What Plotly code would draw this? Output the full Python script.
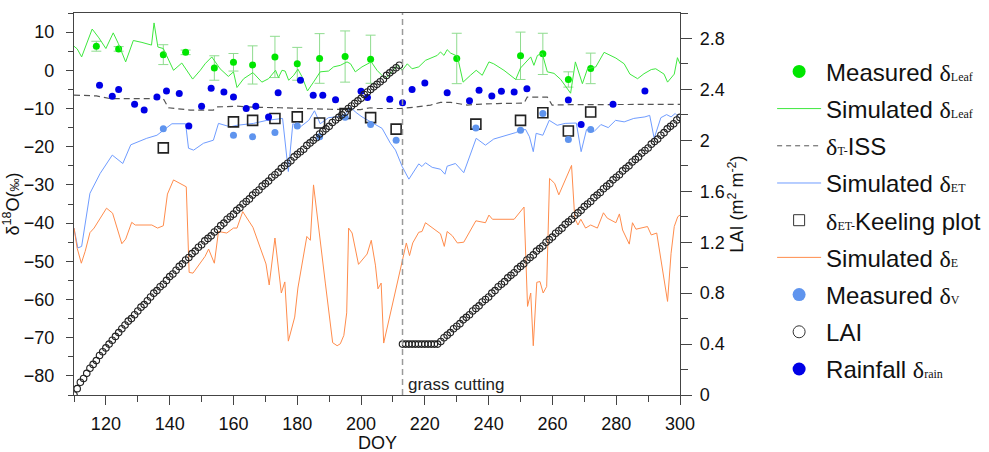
import plotly.graph_objects as go

# ---- measured leaf water (mean ± sd) ----
leaf_doy = [117, 124, 138, 145, 154, 160, 166, 173, 180, 187, 195, 203, 230, 250, 257, 265, 272]
leaf_meas = [6.3, 5.6, 4.1, 4.7, 0.6, 2.1, 1.4, 3.5, 1.7, 3.1, 3.6, 2.9, 3.1, 3.8, 4.3, -2.4, 0.5]
leaf_err = [1.3, 0.6, 2.6, 0.6, 3.2, 2.3, 5.0, 5.4, 4.3, 6.5, 6.7, 6.3, 6.6, 6.2, 5.4, 2.0, 4.0]

# ---- simulated leaf water ----
sim_leaf_doy = [110.0, 111.0, 112.4, 115.7, 117.8, 120.0, 122.3, 123.9, 126.2, 128.6, 131.3, 134.3, 135.1,
                136.3, 138.0, 141.2, 143.8, 147.2, 149.6, 151.1, 153.2, 155.8, 158.4, 160.0, 161.1, 163.2,
                166.1, 168.9, 171.0, 173.2, 174.1, 175.2, 176.2, 177.3, 178.9, 180.2, 181.5, 183.2, 185.1,
                187.2, 189.8, 191.4, 193.5, 195.6, 196.7, 198.2, 200.3, 203.2, 205.0, 207.6, 209.7, 211.3,
                212.9, 214.5, 216.0, 218.1, 220.2, 223.9, 224.9, 226.0, 227.0, 228.1, 230.2, 232.0, 234.3,
                236.1, 238.0, 240.1, 241.6, 244.8, 248.5, 250.0, 253.2, 254.2, 255.3, 256.8, 258.4, 260.5,
                262.6, 265.7, 267.2, 268.3, 269.4, 271.0, 273.6, 276.2, 279.9, 282.5, 284.3, 286.7, 288.7,
                291.0, 292.4, 295.0, 296.1, 298.2, 299.2, 300.0]
sim_leaf = [6.3, 5.6, 3.5, 10.8, 8.5, 5.7, 9.8, 7.0, 2.2, 7.8, 7.3, 6.6, 12.4,
            6.1, 5.7, 0.0, 1.9, -2.3, 0.0, 1.7, 3.5, 0.4, -1.6, -0.4, -4.5, -2.2,
            -0.6, -3.1, -2.2, 0.0, -1.9, 0.0, -0.2, -2.6, -1.3, 0.3, -1.7, -5.4, -3.1,
            -0.4, -0.2, 0.9, 1.3, 2.2, 1.7, -0.4, 0.9, 2.2, 0.0, -2.2, -0.4, 1.3,
            0.0, 1.7, 0.4, 0.9, 2.6, 3.9, 4.8, 3.9, 5.4, 4.5, 3.7, -3.1, -1.3,
            0.0, -1.3, 2.2, 1.7, 0.0, -2.4, 0.6, 3.5, 1.3, 3.9, 4.4, -0.4, -0.8,
            -2.4, -6.0, 2.2, -0.4, -3.5, 0.4, 0.9, 4.7, 3.2, 1.7, -1.0, -2.2, -0.9,
            0.2, 0.4, -1.0, -3.1, -1.0, 3.3, 1.7]

# ---- transpiration at isotopic steady state ----
iss_doy = [110, 117, 121.3, 138, 139.6, 146.4, 153.7, 154.8, 161.1, 167.4, 174.7, 181, 190.4, 199.8,
           202.9, 205, 212.4, 216.5, 221.8, 224.9, 228.1, 233.3, 236.4, 242.7, 251.1, 252.1, 258.4,
           259.9, 265.7, 300]
iss = [-6.5, -6.7, -7.4, -7.4, -9.8, -10.4, -10.4, -9.6, -9.4, -9.7, -9.8, -10.0, -10.2, -10.3,
       -9.8, -10.0, -10.0, -9.7, -9.1, -8.4, -8.4, -9.1, -8.9, -8.7, -8.6, -7.0, -7.0,
       -9.1, -9.0, -8.9]

# ---- simulated evapotranspiration ----
et_doy = [110.0, 111.2, 112.4, 115.0, 118.2, 122.0, 125.3, 127.8, 132.8, 136.0, 140.7, 145.0, 145.9,
          147.5, 150.6, 153.7, 155.3, 159.0, 161.1, 166.3, 170.5, 175.4, 177.2, 178.6, 181.0, 183.6,
          185.4, 187.2, 189.8, 194.6, 196.7, 198.2, 200.3, 204.0, 206.6, 209.2, 210.8, 212.9, 215.0,
          218.1, 219.1, 220.2, 222.3, 224.9, 226.3, 227.0, 229.6, 232.2, 234.9, 236.1, 239.0, 241.6,
          248.5, 250.0, 251.6, 252.8, 254.0, 254.9, 257.0, 259.0, 261.5, 264.0, 267.5, 269.0, 270.7,
          273.1, 275.2, 277.5, 279.8, 282.5, 285.5, 289.0, 290.5, 291.9, 294.0, 295.8, 297.2, 298.5,
          300.0]
et = [-41.3, -46.5, -46.1, -32.2, -27.0, -22.2, -24.4, -19.5, -17.8, -17.0, -14.0, -14.0, -20.4,
      -20.9, -19.1, -18.3, -13.9, -14.8, -14.4, -13.9, -13.1, -12.6, -26.5, -14.0, -14.8, -13.1,
      -10.6, -14.0, -12.4, -12.0, -9.6, -10.9, -12.2, -13.9, -15.2, -19.1, -20.9, -25.2, -28.5,
      -24.5, -25.2, -24.2, -25.4, -25.9, -27.2, -25.1, -24.4, -26.8, -20.9, -17.8, -19.6, -18.0,
      -16.3, -15.7, -15.5, -17.4, -21.3, -16.5, -17.0, -13.1, -14.4, -13.9, -13.8, -21.3, -15.5,
      -16.0, -14.2, -15.0, -13.1, -13.5, -12.6, -12.2, -11.8, -17.8, -12.4, -11.6, -12.2, -11.3,
      -12.6]

# ---- Keeling plot estimates of ET ----
keel_doy = [138, 160, 166, 173, 180, 187, 195, 203, 211, 236, 250, 257, 265, 272]
keel = [-20.3, -13.5, -13.1, -12.6, -12.2, -13.8, -11.3, -12.4, -15.4, -14.1, -13.1, -11.1, -15.9, -10.9]

# ---- simulated soil evaporation ----
e_doy = [110.0, 111.0, 112.3, 113.5, 115.0, 116.3, 120.2, 122.1, 125.0, 126.2, 128.1, 129.2, 134.4,
         136.2, 138.0, 139.3, 141.2, 145.2, 146.1, 147.3, 151.1, 152.2, 154.0, 155.3, 157.9, 160.0,
         161.1, 162.9, 166.1, 170.2, 171.2, 173.0, 175.0, 176.1, 177.2, 179.2, 180.2, 183.0, 184.1,
         185.1, 188.8, 191.1, 192.5, 193.5, 194.6, 195.5, 196.1, 197.2, 199.2, 201.9, 203.2, 204.5,
         205.3, 206.3, 207.1, 213.4, 214.2, 215.2, 216.2, 218.1, 219.1, 220.2, 222.3, 224.9, 226.1,
         227.0, 228.6, 230.2, 232.2, 236.0, 239.0, 240.1, 241.2, 248.0, 251.1, 252.2, 253.2, 254.0,
         255.1, 256.1, 257.1, 258.2, 259.1, 260.7, 262.0, 266.0, 267.0, 268.0, 268.9, 270.4, 272.0,
         274.1, 276.0, 277.2, 279.9, 281.0, 282.0, 284.1, 285.1, 286.2, 289.8, 291.0, 292.7, 296.1,
         297.2, 298.2, 299.3, 300.0]
e_sim = [-41.3, -46.6, -50.5, -47.4, -42.5, -41.3, -36.1, -37.4, -45.4, -44.2, -39.8, -40.5, -40.5,
         -41.3, -40.7, -32.4, -28.7, -30.5, -52.9, -53.1, -48.7, -46.8, -50.5, -42.2, -42.6, -41.3,
         -41.3, -37.0, -41.1, -50.7, -56.2, -43.9, -58.3, -55.4, -70.9, -64.6, -57.0, -43.5, -44.5,
         -30.0, -55.7, -71.3, -72.1, -71.6, -69.4, -63.5, -41.3, -42.6, -50.8, -48.1, -44.5, -51.0,
         -57.2, -55.7, -71.4, -48.7, -45.2, -48.5, -45.2, -42.4, -42.2, -39.9, -41.1, -42.8, -46.1,
         -42.2, -43.3, -45.2, -45.0, -39.4, -39.9, -37.9, -39.0, -39.0, -35.8, -61.8, -58.3, -72.1,
         -55.5, -55.3, -58.3, -56.6, -28.3, -29.6, -32.6, -24.9, -38.7, -40.5, -39.0, -41.3, -40.5,
         -41.3, -37.3, -38.7, -39.9, -37.6, -41.8, -45.5, -39.9, -41.6, -40.9, -43.1, -42.6, -60.5,
         -47.9, -40.9, -38.3, -37.9]

# ---- measured atmospheric vapour ----
vap_doy = [138, 160, 166, 173, 180, 187, 195, 203, 211, 236, 250, 257, 265, 272]
vap = [-15.3, -17.0, -17.4, -16.3, -14.6, -17.4, -12.3, -14.2, -18.3, -15.1, -15.7, -11.3, -18.1, -15.5]

# ---- leaf area index (daily) ----
lai_doy = list(range(110, 301))
lai = [0.00, 0.05, 0.10, 0.13, 0.17, 0.21, 0.24, 0.27, 0.31, 0.34, 0.37,
       0.40, 0.43, 0.46, 0.49, 0.52, 0.55, 0.58, 0.60, 0.63, 0.66,
       0.69, 0.71, 0.74, 0.77, 0.80, 0.82, 0.85, 0.87, 0.90, 0.93,
       0.95, 0.98, 1.01, 1.03, 1.06, 1.08, 1.11, 1.13, 1.16, 1.18,
       1.21, 1.23, 1.25, 1.28, 1.30, 1.33, 1.35, 1.38, 1.40, 1.42,
       1.45, 1.47, 1.50, 1.52, 1.54, 1.57, 1.59, 1.61, 1.64, 1.66,
       1.68, 1.71, 1.73, 1.75, 1.78, 1.80, 1.82, 1.84, 1.87, 1.89,
       1.91, 1.93, 1.96, 1.98, 2.00, 2.02, 2.05, 2.07, 2.09, 2.11,
       2.14, 2.16, 2.18, 2.20, 2.22, 2.25, 2.27, 2.29, 2.31, 2.33,
       2.36, 2.38, 2.40, 2.42, 2.44, 2.46, 2.48, 2.51, 2.53, 2.55,
       2.57, 2.59,
       # after grass cutting (DOY 213)
       0.40, 0.40, 0.40, 0.40, 0.40, 0.40, 0.40, 0.40, 0.40, 0.40, 0.40, 0.40,
       0.42, 0.45, 0.47, 0.49, 0.52, 0.54, 0.56, 0.59, 0.61, 0.63,
       0.66, 0.68, 0.70, 0.73, 0.75, 0.77, 0.80, 0.82, 0.85, 0.87,
       0.89, 0.92, 0.94, 0.96, 0.99, 1.01, 1.03, 1.06, 1.08, 1.10,
       1.13, 1.15, 1.17, 1.20, 1.22, 1.24, 1.27, 1.29, 1.31, 1.34,
       1.36, 1.38, 1.41, 1.43, 1.45, 1.48, 1.50, 1.52, 1.55, 1.57,
       1.59, 1.62, 1.64, 1.66, 1.69, 1.71, 1.73, 1.76, 1.78, 1.80,
       1.83, 1.85, 1.87, 1.90, 1.92, 1.94, 1.97, 1.99, 2.01, 2.04,
       2.06, 2.09, 2.11, 2.13, 2.16, 2.18]

# ---- rainfall isotopes ----
rain_doy = [118, 122, 124, 129, 132, 136, 139, 143, 146, 150, 153, 157, 160, 164, 167, 171, 174, 181,
            185, 188, 192, 200, 202, 209, 213, 216, 220, 227, 234, 237, 241, 244, 248, 252, 265, 269,
            279, 289]
rain = [-3.9, -6.8, -5.0, -8.9, -10.4, -7.0, -5.4, -6.1, -14.6, -9.4, -4.7, -5.7, -7.0, -10.0, -9.4,
        -12.2, -5.9, -2.6, -6.5, -6.5, -7.7, -5.5, -7.1, -7.6, -8.5, -5.0, -3.3, -5.9, -8.0, -5.2,
        -6.7, -5.5, -5.7, -4.8, -7.8, -14.2, -8.9, -5.4]

CUT_DOY = 213

SERIF = "Liberation Serif, Times New Roman, serif"


def delta(sub):
    # δ with a small, baseline-aligned index in a serif face
    return (f"<span style='font-family:{SERIF}'>δ</span>"
            f"<span style='font-family:{SERIF};font-size:12px'>{sub}</span>")


C_LEAF, C_SLEAF, C_ISS = "#00e600", "#3ee83e", "#555555"
C_ET, C_KEEL, C_E = "#6f9cff", "#222222", "#ff8c4c"
C_VAP, C_LAI, C_RAIN = "#5f94ee", "#222222", "#0000e6"

fig = go.Figure()

# ---- data traces (legend handled by the keys below) ----
fig.add_trace(go.Scatter(
    x=leaf_doy, y=leaf_meas, mode="markers", showlegend=False, legendgroup="g1",
    marker=dict(color=C_LEAF, size=7),
    error_y=dict(type="data", array=leaf_err, color="#8fdc8f", thickness=1, width=5)))
fig.add_trace(go.Scatter(
    x=sim_leaf_doy, y=sim_leaf, mode="lines", showlegend=False, legendgroup="g2",
    line=dict(color=C_SLEAF, width=1)))
fig.add_trace(go.Scatter(
    x=iss_doy, y=iss, mode="lines", showlegend=False, legendgroup="g3",
    line=dict(color=C_ISS, width=1.2, dash="6px,4px")))
fig.add_trace(go.Scatter(
    x=et_doy, y=et, mode="lines", showlegend=False, legendgroup="g4",
    line=dict(color=C_ET, width=1)))
fig.add_trace(go.Scatter(
    x=keel_doy, y=keel, mode="markers", showlegend=False, legendgroup="g5",
    marker=dict(symbol="square-open", color=C_KEEL, size=10, line=dict(width=1.6))))
fig.add_trace(go.Scatter(
    x=e_doy, y=e_sim, mode="lines", showlegend=False, legendgroup="g6",
    line=dict(color=C_E, width=1)))
fig.add_trace(go.Scatter(
    x=vap_doy, y=vap, mode="markers", showlegend=False, legendgroup="g7",
    marker=dict(color=C_VAP, size=7)))
fig.add_trace(go.Scatter(
    x=rain_doy, y=rain, mode="markers", showlegend=False, legendgroup="g9",
    marker=dict(color=C_RAIN, size=7)))
fig.add_trace(go.Scatter(
    x=lai_doy, y=lai, mode="markers", yaxis="y2", showlegend=False, legendgroup="g8",
    marker=dict(symbol="circle-open", color=C_LAI, size=6.5, line=dict(width=1.15))))

# ---- legend keys ----
keys = [
    ("g1", "Measured " + delta("Leaf"), dict(mode="markers", marker=dict(color=C_LEAF, size=13))),
    ("g2", "Simulated " + delta("Leaf"), dict(mode="lines", line=dict(color=C_SLEAF, width=1))),
    ("g3", delta("T-") + "ISS", dict(mode="lines", line=dict(color=C_ISS, width=1, dash="5px,4px"))),
    ("g4", "Simulated " + delta("ET"), dict(mode="lines", line=dict(color=C_ET, width=1))),
    ("g5", delta("ET-") + "Keeling plot",
     dict(mode="markers", marker=dict(symbol="square-open", color="#333333", size=11, line=dict(width=1)))),
    ("g6", "Simulated " + delta("E"), dict(mode="lines", line=dict(color=C_E, width=1))),
    ("g7", "Measured " + delta("V"), dict(mode="markers", marker=dict(color=C_VAP, size=13))),
    ("g8", "LAI", dict(mode="markers",
                       marker=dict(symbol="circle-open", color="#333333", size=12, line=dict(width=1)))),
    ("g9", "Rainfall " + delta("rain"), dict(mode="markers", marker=dict(color=C_RAIN, size=13))),
]
for grp, label, style in keys:
    fig.add_trace(go.Scatter(x=[None], y=[None], name=label, legendgroup=grp, showlegend=True, **style))

# grass cutting marker
fig.add_shape(type="line", x0=CUT_DOY, x1=CUT_DOY, y0=0, y1=1, xref="x", yref="paper",
              line=dict(color="#9a9a9a", width=1.5, dash="6px,4px"))
fig.add_annotation(x=CUT_DOY + 1.2, y=-82.3, xref="x", yref="y", text="grass cutting",
                   showarrow=False, xanchor="left", yanchor="middle",
                   font=dict(size=17, color="#222222"))

# x-axis title, placed below the tick labels
fig.add_annotation(x=0.5, y=-0.126, xref="paper", yref="paper", text="DOY", showarrow=False,
                   xanchor="center", yanchor="middle", font=dict(size=18, color="#111111"))

axis_line = dict(showline=True, linecolor="#444444", linewidth=1.3, showgrid=False, zeroline=False,
                 ticks="outside", tickcolor="#444444", tickwidth=1.2, automargin=False,
                 tickfont=dict(size=18, color="#111111"))

fig.update_layout(
    width=989, height=452,
    margin=dict(l=74, r=309, t=13, b=57, autoexpand=False),
    paper_bgcolor="white", plot_bgcolor="white",
    font=dict(family="Liberation Sans, Arial, sans-serif", color="#111111"),
    xaxis=dict(range=[110, 300], tickvals=list(range(120, 301, 20)), ticklen=9,
               minor=dict(tickvals=list(range(110, 301, 10)), ticklen=6, tickcolor="#444444",
                          ticks="outside"),
               mirror=True, ticklabelstandoff=3, **axis_line),
    yaxis=dict(range=[-85, 15], tickvals=list(range(-80, 11, 10)), ticklen=7,
               minor=dict(tickvals=list(range(-85, 16, 5)), ticklen=5, tickcolor="#444444",
                          ticks="outside"),
               ticklabelstandoff=8,
               title=dict(text="δ<sup>18</sup>O(<span style='font-size:13px'>‰</span>)",
                          font=dict(size=18), standoff=4), **axis_line),
    yaxis2=dict(range=[0, 3], overlaying="y", side="right", tickvals=[0, 0.4, 0.8, 1.2, 1.6, 2, 2.4, 2.8],
                ticktext=["0", "0.4", "0.8", "1.2", "1.6", "2", "2.4", "2.8"], ticklen=11,
                minor=dict(tickvals=[0.2, 0.6, 1.0, 1.4, 1.8, 2.2, 2.6, 3.0], ticklen=7,
                           tickcolor="#444444", ticks="outside"),
                ticklabelstandoff=4,
                title=dict(text="LAI (m<sup>2</sup> m<sup>-2</sup>)", font=dict(size=18), standoff=6),
                **axis_line),
    legend=dict(x=1.152, xanchor="left", y=0.905, yanchor="top", font=dict(size=24, color="#111111"),
                itemsizing="trace", itemwidth=44, bgcolor="rgba(0,0,0,0)", tracegroupgap=3),
    showlegend=True,
)

fig.write_html("out.html")
